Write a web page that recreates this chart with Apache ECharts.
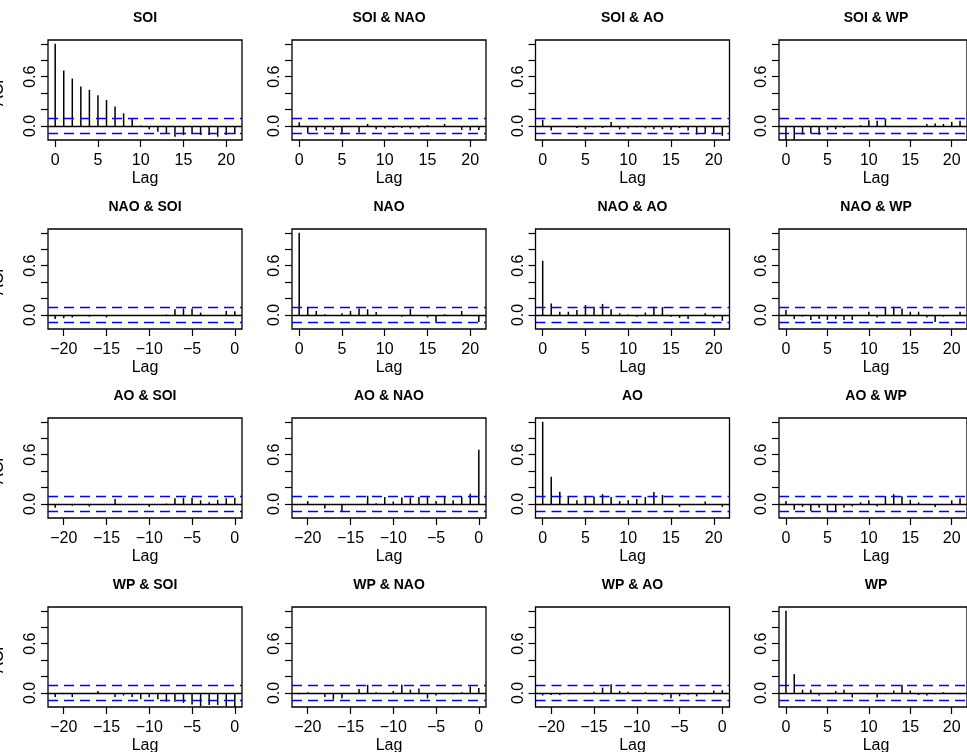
<!DOCTYPE html>
<html><head><meta charset="utf-8">
<script src="https://cdn.jsdelivr.net/npm/echarts@6/dist/echarts.min.js"></script>
<style>html,body{margin:0;padding:0;background:#fff}#chart{width:967px;height:752px}</style>
</head><body><div id="chart"></div>
<script>
const seriesNames = ['SOI', 'NAO', 'AO', 'WP'];
const lagsPos = [0, 1, 2, 3, 4, 5, 6, 7, 8, 9, 10, 11, 12, 13, 14, 15, 16, 17, 18, 19, 20, 21];
const lagsNeg = [-21, -20, -19, -18, -17, -16, -15, -14, -13, -12, -11, -10, -9, -8, -7, -6, -5, -4, -3, -2, -1, 0];
const xTicksPos = [0, 5, 10, 15, 20];
const xTicksNeg = [-20, -15, -10, -5, 0];
const yTicks = [0, 0.2, 0.4, 0.6, 0.8, 1.0];
const yTickLabels = [0, 0.6];
const ciBound = 0.089;

// row SOI (lags 0..21)
const acf_SOI = [1.0, 0.675, 0.577, 0.48, 0.44, 0.374, 0.317, 0.236, 0.154, 0.089, 0.005, -0.04, -0.07, -0.09, -0.13, -0.11, -0.10, -0.11, -0.11, -0.13, -0.11, -0.10];
const acf_SOI_NAO = [0.045, -0.09, -0.055, -0.04, -0.05, -0.10, -0.01, -0.08, 0.025, -0.04, -0.03, -0.025, -0.025, -0.03, -0.03, 0.01, -0.01, 0.025, -0.01, -0.05, -0.055, -0.05];
const acf_SOI_AO = [0.075, -0.055, -0.01, -0.01, -0.025, -0.04, -0.015, -0.025, 0.05, -0.04, -0.03, -0.015, -0.03, -0.04, -0.04, -0.05, -0.025, -0.055, -0.105, -0.09, -0.09, -0.12];
const acf_SOI_WP = [-0.17, -0.17, -0.105, -0.09, -0.105, -0.05, -0.04, -0.025, -0.01, 0.01, 0.07, 0.065, 0.09, -0.01, 0.0, -0.015, -0.01, 0.025, 0.03, 0.025, 0.05, 0.065];
// row NAO
const acf_NAO_SOI = [-0.05, -0.04, -0.03, -0.01, -0.02, -0.01, -0.03, -0.01, -0.01, -0.01, -0.01, 0.0, -0.01, 0.005, 0.07, 0.08, 0.08, 0.03, -0.01, -0.01, 0.05, 0.045];
const acf_NAO = [1.0, 0.10, 0.05, 0.01, 0.0, 0.02, 0.05, 0.08, 0.07, 0.035, -0.01, -0.01, -0.02, 0.075, -0.01, -0.03, -0.095, 0.01, -0.01, 0.05, -0.01, -0.085];
const acf_NAO_AO = [0.66, 0.14, 0.04, 0.04, 0.06, 0.12, 0.10, 0.135, 0.07, 0.02, 0.005, -0.02, 0.03, 0.10, 0.095, -0.02, -0.035, -0.05, 0.0, 0.02, -0.03, -0.07];
const acf_NAO_WP = [0.06, -0.05, -0.02, -0.06, -0.05, -0.06, -0.05, -0.06, -0.06, 0.0, 0.04, -0.03, 0.10, 0.10, 0.08, 0.04, 0.04, -0.03, -0.085, -0.02, -0.01, 0.04];
// row AO
const acf_AO_SOI = [-0.045, -0.01, -0.02, 0.0, -0.03, 0.0, 0.0, 0.06, 0.0, -0.01, -0.01, -0.035, -0.01, 0.005, 0.07, 0.075, 0.075, 0.045, 0.02, 0.05, 0.07, 0.075];
const acf_AO_NAO = [-0.01, 0.035, 0.0, -0.055, -0.01, -0.085, 0.0, -0.01, 0.10, 0.01, 0.085, 0.03, 0.08, 0.08, 0.085, 0.085, 0.035, 0.085, 0.045, 0.085, 0.125, 0.66];
const acf_AO = [1.0, 0.33, 0.15, 0.095, 0.045, 0.085, 0.09, 0.12, 0.085, 0.035, 0.045, 0.06, 0.085, 0.145, 0.11, 0.0, -0.035, -0.01, -0.01, 0.03, 0.0, -0.035];
const acf_AO_WP = [0.035, -0.07, -0.035, -0.085, -0.045, -0.085, -0.085, -0.045, -0.03, 0.02, 0.045, -0.03, 0.095, 0.12, 0.095, 0.05, 0.02, 0.0, -0.035, -0.01, 0.045, 0.07];
// row WP
const acf_WP_SOI = [-0.05, -0.015, -0.05, -0.01, -0.01, 0.025, -0.01, -0.05, -0.03, -0.05, -0.075, -0.05, -0.075, -0.105, -0.105, -0.12, -0.14, -0.16, -0.145, -0.145, -0.16, -0.17];
const acf_WP_NAO = [-0.015, 0.01, 0.0, -0.05, -0.08, -0.065, 0.0, 0.05, 0.10, 0.01, 0.0, 0.025, 0.10, 0.04, 0.055, -0.065, -0.03, 0.0, -0.015, 0.01, 0.08, 0.06];
const acf_WP_AO = [-0.03, -0.025, -0.025, -0.015, -0.01, 0.0, 0.015, 0.065, 0.105, 0.025, 0.015, 0.0, 0.01, 0.0, -0.025, -0.065, -0.04, -0.025, -0.04, -0.015, 0.03, 0.035];
const acf_WP = [1.0, 0.23, 0.04, 0.04, -0.03, -0.015, 0.025, 0.04, -0.055, 0.0, -0.015, -0.055, -0.015, 0.03, 0.10, 0.03, -0.025, -0.03, -0.015, 0.01, 0.0, -0.015];

const panelValues = [
  [acf_SOI, acf_SOI_NAO, acf_SOI_AO, acf_SOI_WP],
  [acf_NAO_SOI, acf_NAO, acf_NAO_AO, acf_NAO_WP],
  [acf_AO_SOI, acf_AO_NAO, acf_AO, acf_AO_WP],
  [acf_WP_SOI, acf_WP_NAO, acf_WP_AO, acf_WP]
];

const colLeft = [48, 292, 535.5, 779];
const rowTop = [40, 229, 418, 607];
const boxW = 194, boxH = 100;
const FONT = '"Liberation Sans", Arial, Helvetica, sans-serif';
const fmtMinus = v => String(v).replace('-', '\u2212');

const grids = [], xAxes = [], yAxes = [], series = [], graphics = [];
for (let r = 0; r < 4; r++) {
  for (let c = 0; c < 4; c++) {
    const idx = r * 4 + c;
    const lower = r > c;
    const lags = lower ? lagsNeg : lagsPos;
    const ticks = lower ? xTicksNeg : xTicksPos;
    const vals = panelValues[r][c];
    grids.push({left: colLeft[c], top: rowTop[r], width: boxW, height: boxH,
      show: true, borderColor: '#000', borderWidth: 1.3, backgroundColor: 'transparent'});
    xAxes.push({type: 'value', gridIndex: idx, position: 'bottom',
      min: lower ? -21.84 : -0.84, max: lower ? 0.84 : 21.84,
      axisLine: {show: false, onZero: false}, splitLine: {show: false},
      axisTick: {show: true, customValues: ticks, length: 7, lineStyle: {color: '#000', width: 1.2}},
      axisLabel: {customValues: ticks, margin: 13, fontSize: 16, color: '#000', fontFamily: FONT, formatter: fmtMinus}});
    yAxes.push({type: 'value', gridIndex: idx, position: 'left', min: -0.1703, max: 1.046,
      axisLine: {show: false, onZero: false}, splitLine: {show: false},
      axisTick: {show: true, customValues: yTicks, length: 7, lineStyle: {color: '#000', width: 1.2}},
      axisLabel: {customValues: yTickLabels, rotate: 90, margin: 9, fontSize: 16, color: '#000', fontFamily: FONT,
        formatter: v => Number(v).toFixed(1)}});
    series.push({type: 'bar', xAxisIndex: idx, yAxisIndex: idx, barWidth: 1.5,
      data: lags.map((l, i) => [l, vals[i]]),
      itemStyle: {color: '#000'}, silent: true, animation: false, clip: true,
      markLine: {silent: true, symbol: ['none', 'none'], label: {show: false}, animation: false,
        data: [
          {yAxis: ciBound, lineStyle: {color: '#0000ff', type: [10, 6], width: 1.4}},
          {yAxis: -ciBound, lineStyle: {color: '#0000ff', type: [10, 6], width: 1.4}},
          {yAxis: 0, lineStyle: {color: '#000', type: 'solid', width: 1.3}}
        ]}});
    const title = r === c ? seriesNames[r] : seriesNames[r] + ' & ' + seriesNames[c];
    graphics.push({type: 'text', x: colLeft[c] + boxW / 2, y: rowTop[r] - 22,
      style: {text: title, font: 'bold 14px ' + FONT, fill: '#000', textAlign: 'center', textVerticalAlign: 'middle'}});
    graphics.push({type: 'text', x: colLeft[c] + boxW / 2, y: rowTop[r] + boxH + 39,
      style: {text: 'Lag', font: '16px ' + FONT, fill: '#000', textAlign: 'center', textVerticalAlign: 'middle'}});
    if (c === 0) {
      graphics.push({type: 'text', x: -1, y: rowTop[r] + boxH / 2, rotation: Math.PI / 2,
        style: {text: 'ACF', font: '16px ' + FONT, fill: '#000', textAlign: 'center', textVerticalAlign: 'middle'}});
    }
  }
}

const chart = echarts.init(document.getElementById('chart'), null, {renderer: 'canvas'});
chart.setOption({animation: false, backgroundColor: '#fff', grid: grids, xAxis: xAxes, yAxis: yAxes, series: series, graphic: graphics});
</script></body></html>
